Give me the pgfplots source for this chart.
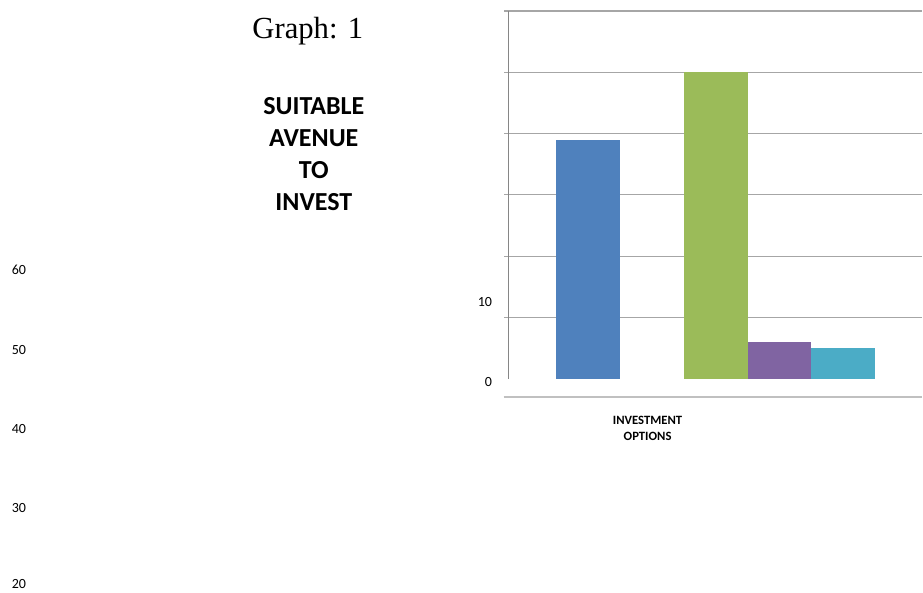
\documentclass[border=0pt]{standalone}
\usepackage{pgfplots}
\pgfplotsset{compat=1.18}
\usepackage{fontspec}
\setmainfont{Carlito}
\newfontfamily\timesfont{Liberation Serif}

\definecolor{barblue}{HTML}{4F81BD}
\definecolor{bargreen}{HTML}{9BBB59}
\definecolor{barpurple}{HTML}{8064A2}
\definecolor{barcyan}{HTML}{4BACC6}
\definecolor{gridgray}{HTML}{A6A6A6}
\definecolor{axisgray}{HTML}{868686}
\definecolor{basegray}{HTML}{C0C0C0}

\begin{document}
\begin{tikzpicture}
  \begin{axis}[
      at={(381.75pt,160.5pt)}, anchor=south west,
      scale only axis,
      width=310.5pt, height=276pt,
      xmin=-1, xmax=1,
      ymin=0, ymax=60,
      ytick={10,20,...,60},
      yticklabels={},
      xtick=\empty,
      axis x line=none,
      axis y line*=left,
      y axis line style={axisgray, line width=0.8pt, -},
      ymajorgrids,
      grid style={gridgray, line width=0.9pt},
      tick style={gridgray, line width=0.9pt},
      tick align=outside,
      major tick length=3.5pt,
      ybar=0pt,
      bar width=48pt,
      clip=false,
    ]
    \addplot[fill=barblue,   draw=none] coordinates {(0,39)};
    \addplot[fill=none,      draw=none] coordinates {(0,0)};
    \addplot[fill=bargreen,  draw=none] coordinates {(0,50)};
    \addplot[fill=barpurple, draw=none] coordinates {(0,6)};
    \addplot[fill=barcyan,   draw=none] coordinates {(0,5)};
  \end{axis}

  \begin{scope}[x=0.75pt,y=0.75pt]
    % page frame, 923 x 593 units; y counted from the bottom
    \path[use as bounding box] (0,0) rectangle (923,593);

    % base line under the plot area
    \draw[basegray, line width=1.5pt] (504,195.5) -- (923,195.5);

    % titles
    \node[font=\timesfont\fontsize{23}{27}\selectfont] at (308,562) {Graph: 1};
    \node[font=\bfseries\fontsize{19.5}{24}\selectfont, align=center] at (314,439)
      {SUITABLE\\AVENUE\\TO\\INVEST};

    % value labels
    \begin{scope}[font=\fontsize{10.5}{12}\selectfont]
      \node[anchor=east] at (497,291) {10};
      \node[anchor=east] at (497,211) {0};
      \node at (19,323) {60};
      \node at (19,243) {50};
      \node at (19,164) {40};
      \node at (19,85) {30};
      \node[anchor=south] at (19,-1) {20};
    \end{scope}

    % category label
    \node[font=\bfseries\fontsize{9.5}{12}\selectfont, align=center] at (648,164)
      {INVESTMENT\\OPTIONS};
  \end{scope}
\end{tikzpicture}
\end{document}
